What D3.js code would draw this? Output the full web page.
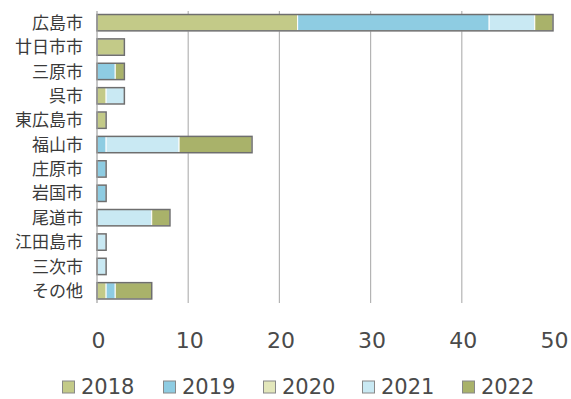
<!DOCTYPE html>
<html><head><meta charset="utf-8">
<script src="https://cdn.jsdelivr.net/npm/d3@7"></script>
<style>body{margin:0;background:#fff}svg{display:block}</style>
</head><body>
<script>
const categories = ["広島市","廿日市市","三原市","呉市","東広島市","福山市","庄原市","岩国市","尾道市","江田島市","三次市","その他"];
const years = ["2018","2019","2020","2021","2022"];
const v2018 = [22,3,0,1,1,0,0,0,0,0,0,1];
const v2019 = [21,0,2,0,0,1,1,1,0,0,0,1];
const v2020 = [0,0,0,0,0,0,0,0,0,0,0,0];
const v2021 = [5,0,0,2,0,8,0,0,6,1,1,0];
const v2022 = [2,0,1,0,0,8,0,0,2,0,0,4];
const xTicks = [0,10,20,30,40,50];
const colors = ["#c3ca88","#8ecce2","#e3e7bb","#c9e9f3","#a9b26a"];

const W=571,H=399;
const svg=d3.select("body").append("svg").attr("width",W).attr("height",H);
const x=d3.scaleLinear().domain([0,50]).range([97,553]);
const y=d3.scaleBand().domain(categories).range([10.5,303]).paddingInner(0.33).paddingOuter(0.165);

const rows=categories.map((c,i)=>({cat:c,"2018":v2018[i],"2019":v2019[i],"2020":v2020[i],"2021":v2021[i],"2022":v2022[i]}));
const stack=d3.stack().keys(years)(rows);

// gridlines
svg.append("g").selectAll("line").data([10,20,30,40]).join("line")
  .attr("x1",d=>x(d)).attr("x2",d=>x(d)).attr("y1",11).attr("y2",303)
  .attr("stroke","#b4b4b4").attr("stroke-width",1.2);

// bars
stack.forEach((s,k)=>{
  svg.append("g").selectAll("rect").data(s.filter(d=>d[1]>d[0])).join("rect")
    .attr("x",d=>x(d[0])).attr("width",d=>x(d[1])-x(d[0]))
    .attr("y",d=>y(d.data.cat)).attr("height",y.bandwidth())
    .attr("fill",colors[k]).attr("stroke","#ffffff").attr("stroke-width",1);
});
// outlines
svg.append("g").selectAll("rect").data(rows).join("rect")
  .attr("x",x(0)).attr("width",d=>x(years.reduce((a,k)=>a+d[k],0))-x(0))
  .attr("y",d=>y(d.cat)).attr("height",y.bandwidth())
  .attr("fill","none").attr("stroke","#6e6e6e").attr("stroke-width",1.5);

// y axis line
svg.append("line").attr("x1",x(0)).attr("x2",x(0)).attr("y1",11).attr("y2",303)
  .attr("stroke","#a0a0a0").attr("stroke-width",1.2);

// category labels
svg.append("g").selectAll("text").data(categories).join("text")
  .attr("x",83).attr("y",d=>y(d)+y.bandwidth()/2).attr("dy","0.36em")
  .attr("text-anchor","end").attr("font-family","'Noto Sans CJK JP'")
  .attr("font-size",17).attr("fill","#3a3a3a").text(d=>d);

// x tick labels
const xAxis=d3.axisBottom(x).tickValues(xTicks).tickSize(0).tickPadding(0);
const gx=svg.append("g").attr("transform","translate(1,332)").call(xAxis);
gx.select(".domain").remove();
gx.selectAll("text").attr("font-family","'DejaVu Sans'").attr("font-size",22).attr("fill","#4a4a4a").attr("dy","0.71em");

// legend
const legX=[62,163,263,362,462];
const lg=svg.append("g").selectAll("g").data(years).join("g")
  .attr("transform",(d,i)=>`translate(${legX[i]},0)`);
lg.append("rect").attr("x",0.5).attr("y",381).attr("width",12).attr("height",12)
  .attr("fill",(d,i)=>colors[i]).attr("stroke","#888").attr("stroke-width",1);
lg.append("text").attr("x",19).attr("y",394)
  .attr("font-family","'DejaVu Sans'").attr("font-size",21).attr("fill","#4a4a4a").text(d=>d);
</script>
</body></html>
